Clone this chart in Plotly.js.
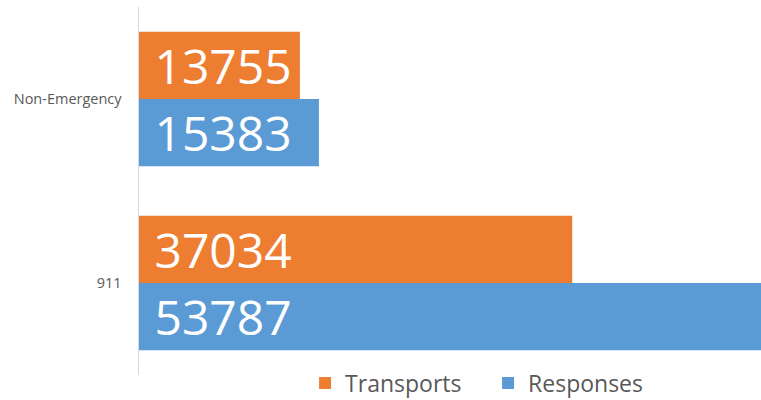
<!DOCTYPE html>
<html>
<head>
<meta charset="utf-8">
<script src="https://cdn.plot.ly/plotly-3.0.1.min.js"></script>
<style>html,body{margin:0;padding:0;background:#fff;}#chart{width:761px;height:400px;}</style>
</head>
<body>
<div id="chart"></div>
<script>
var categories = ['Non-Emergency', '911'];
var seriesNames = ['Transports', 'Responses'];
var transports = [13755, 37034];
var responses = [15383, 53787];
var colors = ['#ED7D31', '#5B9BD5'];

function labels(vals) { return vals.map(function (v) { return '\u00A0' + v; }); }

var common = {
  type: 'bar',
  orientation: 'h',
  y: categories,
  textposition: 'inside',
  insidetextanchor: 'start',
  constraintext: 'none',
  textangle: 0,
  textfont: { family: 'Open Sans', size: 48, color: '#ffffff' },
  hoverinfo: 'none'
};

var traces = [
  Object.assign({}, common, { name: seriesNames[0], x: transports, text: labels(transports), marker: { color: colors[0] } }),
  Object.assign({}, common, { name: seriesNames[1], x: responses, text: labels(responses), marker: { color: colors[1] } })
];

var layout = {
  width: 761,
  height: 400,
  margin: { l: 139, r: 0, t: 7, b: 24.5, autoexpand: false },
  paper_bgcolor: '#ffffff',
  plot_bgcolor: '#ffffff',
  barmode: 'group',
  bargap: 0.269,
  bargroupgap: 0,
  showlegend: true,
  xaxis: { range: [0, 53170], showgrid: false, zeroline: false, showticklabels: false, showline: false, fixedrange: true },
  yaxis: {
    type: 'category',
    categoryorder: 'array',
    categoryarray: categories,
    range: [1.5, -0.5],
    showline: true,
    linecolor: '#d9d9d9',
    linewidth: 1.5,
    showgrid: false,
    zeroline: false,
    ticks: '',
    ticklabelstandoff: 13,
    tickfont: { family: 'Open Sans', size: 14.5, color: '#595959' },
    fixedrange: true
  },
  legend: {
    orientation: 'h',
    x: 0.267,
    xanchor: 'left',
    y: -0.022,
    yanchor: 'middle',
    entrywidth: 138,
    bgcolor: 'rgba(0,0,0,0)',
    font: { family: 'Open Sans', size: 23, color: '#595959' }
  }
};

Plotly.newPlot('chart', traces, layout, { staticPlot: true, displayModeBar: false });
</script>
</body>
</html>
